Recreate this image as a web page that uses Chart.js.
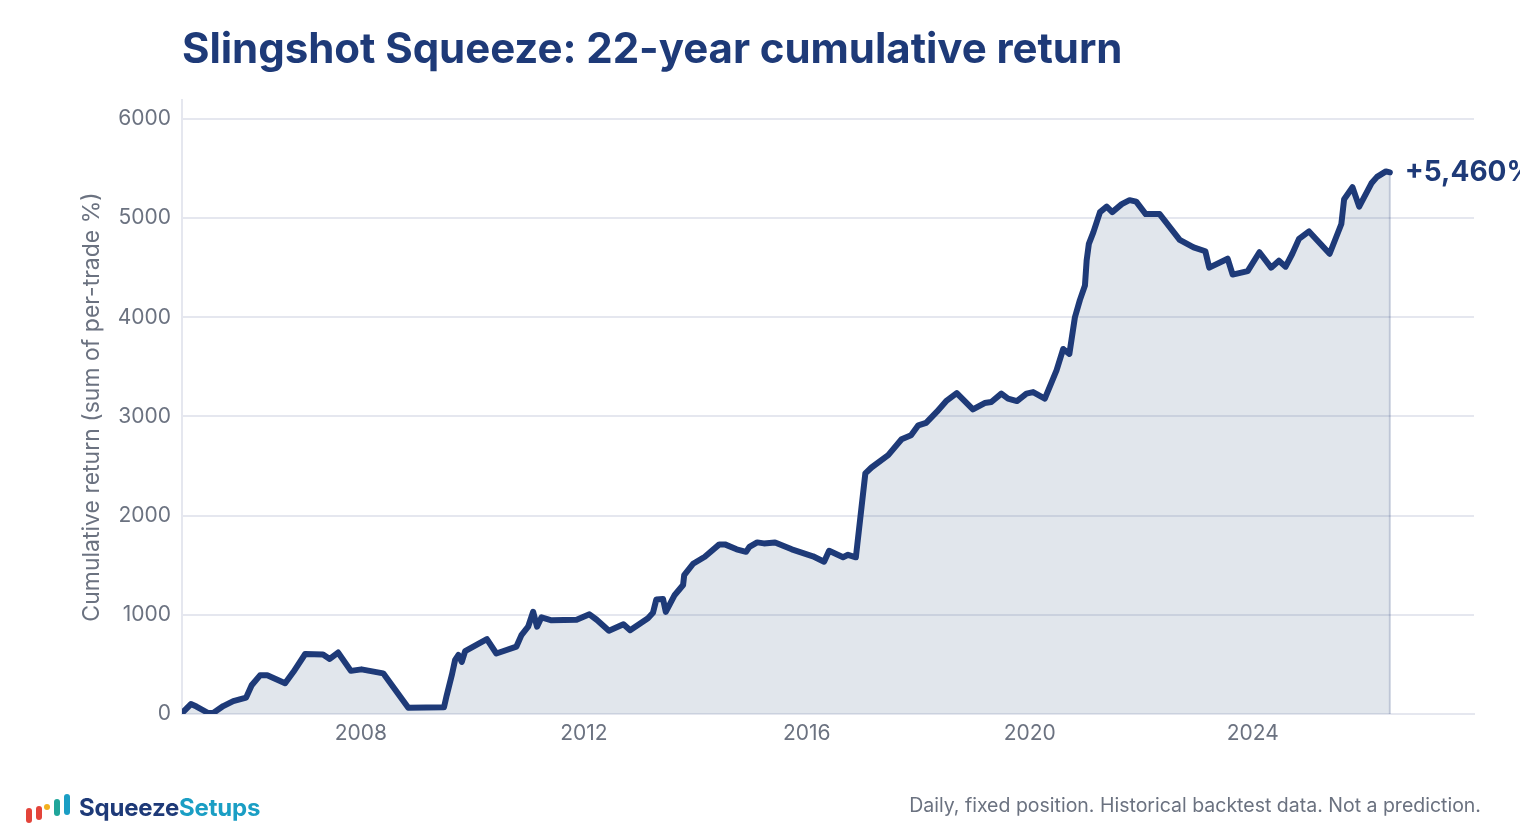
<!DOCTYPE html>
<html>
<head>
<meta charset="utf-8">
<script src="https://cdn.jsdelivr.net/npm/chart.js@4.4.1/dist/chart.umd.min.js"></script>
<style>
  html, body { margin: 0; padding: 0; background: #fff; }
  body { width: 1520px; height: 840px; position: relative; overflow: hidden; font-family: Inter, "Noto Sans", sans-serif; }
  #wrap { position: absolute; left: 0; top: 0; width: 1520px; height: 840px; }
  h1 { position: absolute; left: 182px; top: 24px; margin: 0; font-size: 42px; line-height: 48px; font-weight: 700; color: #1e3a78; letter-spacing: -0.05px; }
  .logo { position: absolute; left: 26px; top: 792px; height: 32px; }
  .logo i { position: absolute; display: block; border-radius: 3px; }
  .logo span.name { position: absolute; left: 53px; top: 1px; font-size: 24px; font-weight: 700; white-space: nowrap; color: #1e3a78; letter-spacing: -0.2px; }
  .logo span.name b { color: #1a9ec4; font-weight: 700; }
  .note { position: absolute; right: 39px; top: 793px; font-size: 19.5px; color: #6b7280; white-space: nowrap; }
</style>
</head>
<body>
<div id="wrap"><canvas id="chart"></canvas></div>
<h1>Slingshot Squeeze: 22-year cumulative return</h1>
<div class="logo">
  <i style="left:0;top:16px;width:6px;height:15px;background:#e3443a"></i>
  <i style="left:10px;top:14px;width:6px;height:14px;background:#e3443a"></i>
  <i style="left:18px;top:12px;width:6px;height:6px;background:#f2b01e;border-radius:50%"></i>
  <i style="left:28px;top:7px;width:6px;height:17px;background:#1fa59a"></i>
  <i style="left:38px;top:2px;width:6px;height:21px;background:#1a9ec4"></i>
  <span class="name">Squeeze<b>Setups</b></span>
</div>
<div class="note">Daily, fixed position. Historical backtest data. Not a prediction.</div>
<script>
// cumulative return, sum of per-trade %
const years = [
  2004.81, 2004.95, 2005.05, 2005.26, 2005.35, 2005.53, 2005.71, 2005.94, 2006.04, 2006.19,
  2006.32, 2006.64, 2006.79, 2007.00, 2007.32, 2007.44, 2007.59, 2007.82, 2008.01, 2008.40,
  2008.85, 2009.49, 2009.54, 2009.63, 2009.69, 2009.75, 2009.81, 2009.87, 2010.26, 2010.43,
  2010.79, 2010.88, 2011.00, 2011.09, 2011.16, 2011.24, 2011.42, 2011.87, 2012.10, 2012.23,
  2012.45, 2012.71, 2012.83, 2013.15, 2013.24, 2013.30, 2013.42, 2013.47, 2013.63, 2013.78,
  2013.80, 2013.96, 2014.17, 2014.43, 2014.53, 2014.74, 2014.91, 2014.97, 2015.11, 2015.23,
  2015.43, 2015.73, 2016.11, 2016.31, 2016.40, 2016.65, 2016.74, 2016.88, 2017.05, 2017.16,
  2017.46, 2017.70, 2017.87, 2018.00, 2018.14, 2018.33, 2018.51, 2018.69, 2018.98, 2019.19,
  2019.31, 2019.49, 2019.61, 2019.77, 2019.94, 2020.06, 2020.27, 2020.48, 2020.60, 2020.71,
  2020.81, 2020.90, 2020.99, 2021.02, 2021.06, 2021.14, 2021.26, 2021.38, 2021.48, 2021.65,
  2021.79, 2021.91, 2022.08, 2022.33, 2022.69, 2022.94, 2023.15, 2023.22, 2023.55, 2023.64,
  2023.91, 2024.12, 2024.33, 2024.47, 2024.59, 2024.71, 2024.83, 2025.01, 2025.38, 2025.59,
  2025.64, 2025.79, 2025.91, 2026.13, 2026.23, 2026.39, 2026.46
];
const cumReturn = [
  20, 100, 75, 10, 10, 80, 130, 165, 290, 390,
  390, 310, 425, 605, 600, 555, 620, 435, 450, 410,
  63, 67, 190, 390, 545, 595, 525, 635, 755, 610,
  680, 795, 880, 1030, 880, 975, 945, 950, 1005, 950,
  840, 905, 845, 965, 1020, 1155, 1160, 1030, 1200, 1300,
  1400, 1515, 1585, 1710, 1710, 1660, 1635, 1685, 1730, 1720,
  1730, 1660, 1590, 1535, 1645, 1580, 1605, 1580, 2425, 2485,
  2610, 2770, 2810, 2910, 2935, 3045, 3160, 3235, 3070, 3135,
  3145, 3230, 3180, 3155, 3230, 3245, 3180, 3465, 3680, 3630,
  4000, 4175, 4320, 4570, 4740, 4855, 5060, 5115, 5060, 5140,
  5180, 5165, 5040, 5040, 4780, 4705, 4665, 4500, 4590, 4430,
  4465, 4655, 4500, 4570, 4510, 4640, 4790, 4865, 4640, 4940,
  5190, 5310, 5115, 5350, 5415, 5470, 5460
];
const xTicks = [2008, 2012, 2016, 2020, 2024];
const yTicks = [0, 1000, 2000, 3000, 4000, 5000, 6000];
const endLabel = '+5,460%';
const yTitle = 'Cumulative return (sum of per-trade %)';

const NAVY = '#1e3a78';
const GRID = '#e5e7ef';
const MUTED = '#6b7280';

const endMarker = {
  id: 'endMarker',
  afterDatasetsDraw(chart) {
    const meta = chart.getDatasetMeta(0);
    const last = meta.data[meta.data.length - 1];
    if (!last) return;
    const ctx = chart.ctx;
    ctx.save();
    ctx.strokeStyle = 'rgba(30,58,120,0.22)';
    ctx.lineWidth = 2;
    ctx.beginPath();
    ctx.moveTo(last.x, last.y + 3);
    ctx.lineTo(last.x, chart.chartArea.bottom);
    ctx.stroke();
    ctx.font = '700 28px Inter';
    ctx.fillStyle = NAVY;
    ctx.textAlign = 'left';
    ctx.textBaseline = 'middle';
    ctx.fillText(endLabel, last.x + 15, last.y);
    ctx.restore();
  }
};

const ctx = document.getElementById('chart');
new Chart(ctx, {
  type: 'line',
  data: {
    datasets: [{
      data: years.map((x, i) => ({ x, y: cumReturn[i] })),
      borderColor: NAVY,
      borderWidth: 6,
      borderJoinStyle: 'round',
      borderCapStyle: 'round',
      backgroundColor: 'rgba(45,75,120,0.14)',
      fill: 'origin',
      pointRadius: 0,
      tension: 0
    }]
  },
  options: {
    responsive: true,
    maintainAspectRatio: false,
    animation: false,
    layout: { padding: { top: 100, right: 46, bottom: 0, left: 0 } },
    plugins: { legend: { display: false }, tooltip: { enabled: false } },
    scales: {
      x: {
        type: 'linear',
        min: 2004.79,
        max: 2027.97,
        grid: { display: false, drawTicks: false },
        border: { display: true, color: GRID, width: 2 },
        ticks: { color: MUTED, font: { family: 'Inter', size: 21 }, padding: 7, callback: v => String(v) },
        afterBuildTicks: axis => { axis.ticks = xTicks.map(v => ({ value: v })); },
        afterFit: s => { s.height = 126; }
      },
      y: {
        min: 0,
        max: 6190,
        grid: { color: GRID, lineWidth: 2, drawTicks: false },
        border: { display: true, color: GRID, width: 2 },
        ticks: { color: MUTED, font: { family: 'Inter', size: 21 }, padding: 11, callback: v => String(v) },
        afterBuildTicks: axis => { axis.ticks = yTicks.map(v => ({ value: v })); },
        title: {
          display: true,
          text: yTitle,
          color: MUTED,
          font: { family: 'Inter', size: 23 },
          padding: { top: 78, bottom: 0 }
        },
        afterFit: s => { s.width = 182; }
      }
    }
  },
  plugins: [endMarker]
});
</script>
</body>
</html>
